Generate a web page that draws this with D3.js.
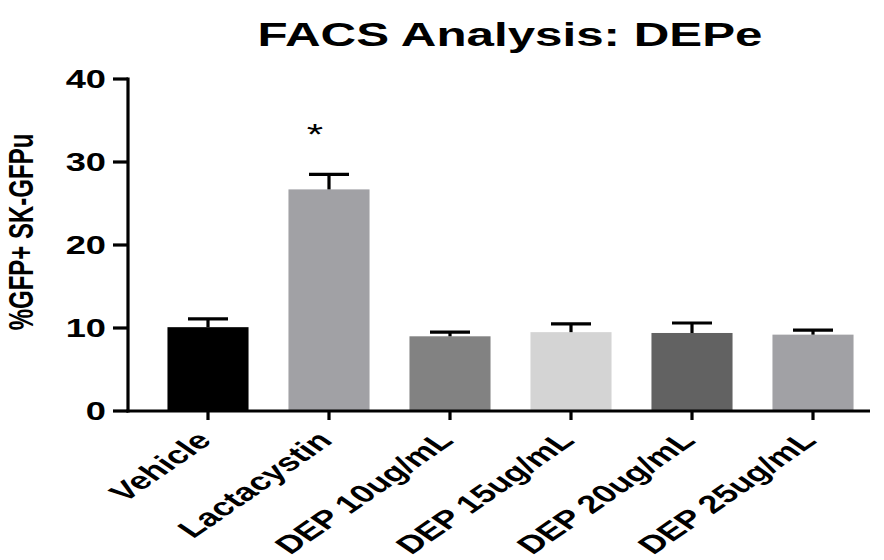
<!DOCTYPE html>
<html>
<head>
<meta charset="utf-8">
<script src="https://cdn.jsdelivr.net/npm/d3@7/dist/d3.min.js"></script>
<style>
  html, body { margin: 0; padding: 0; background: #fff; }
  svg { display: block; }
  text { font-family: "Liberation Sans", Arial, Helvetica, sans-serif; font-weight: bold; fill: #000; }
</style>
</head>
<body>
<svg id="chart" width="884" height="560"></svg>
<script>
// Treatment groups, mean %GFP+ cells and SEM
const categories = ["Vehicle", "Lactacystin", "DEP 10ug/mL", "DEP 15ug/mL", "DEP 20ug/mL", "DEP 25ug/mL"];
const means = [10.1, 26.7, 9.0, 9.5, 9.4, 9.2];
const sems = [1.0, 1.8, 0.5, 1.0, 1.2, 0.55];
const barColors = ["#000000", "#a1a1a5", "#828282", "#d4d4d4", "#626262", "#a1a1a5"];
const significant = [false, true, false, false, false, false];
const yTicks = [0, 10, 20, 30, 40];
const titleText = "FACS Analysis: DEPe";
const yLabelText = "%GFP+ SK-GFPu";

// Horizontal stretch applied to text glyphs
const SX = 1.45;

const svg = d3.select("#chart");

const axisLeft = 128, axisRight = 870, axisBottom = 411, axisTop = 79;

const y = d3.scaleLinear().domain([0, 40]).range([axisBottom, axisTop]);
const x = d3.scaleBand()
  .domain(categories)
  .range([147.5, 873.5])
  .paddingInner(0.33)
  .paddingOuter(0.165);

const data = categories.map((c, i) => ({
  cat: c, mean: means[i], sem: sems[i], color: barColors[i], sig: significant[i]
}));

// Bars
svg.append("g").selectAll("rect")
  .data(data)
  .join("rect")
  .attr("x", d => x(d.cat))
  .attr("y", d => y(d.mean))
  .attr("width", x.bandwidth())
  .attr("height", d => y(0) - y(d.mean))
  .attr("fill", d => d.color);

// Error bars (upper only)
const capHalf = 20;
const eb = svg.append("g").attr("stroke", "#000").attr("stroke-width", 3.2);
data.forEach(d => {
  const cx = x(d.cat) + x.bandwidth() / 2;
  eb.append("line").attr("x1", cx).attr("x2", cx)
    .attr("y1", y(d.mean)).attr("y2", y(d.mean + d.sem));
  eb.append("line").attr("x1", cx - capHalf).attr("x2", cx + capHalf)
    .attr("y1", y(d.mean + d.sem)).attr("y2", y(d.mean + d.sem));
});

// Significance marks
data.filter(d => d.sig).forEach(d => {
  const cx = x(d.cat) + x.bandwidth() / 2 - 14;
  svg.append("text")
    .attr("transform", `translate(${cx},${y(d.mean + d.sem) - 30}) scale(${SX},1)`)
    .attr("text-anchor", "middle")
    .style("font-size", "29px")
    .style("font-weight", "normal")
    .text("*");
});

// Y axis
const yAxis = svg.append("g");
yAxis.append("line")
  .attr("x1", axisLeft).attr("x2", axisLeft)
  .attr("y1", y(40) - 1.5).attr("y2", axisBottom + 1.5)
  .attr("stroke", "#000").attr("stroke-width", 3.2);
yAxis.selectAll("line.tick")
  .data(yTicks)
  .join("line")
  .attr("class", "tick")
  .attr("x1", 113).attr("x2", axisLeft)
  .attr("y1", d => y(d)).attr("y2", d => y(d))
  .attr("stroke", "#000").attr("stroke-width", 3.2);
yAxis.selectAll("text")
  .data(yTicks)
  .join("text")
  .attr("transform", d => `translate(106,${y(d) + 9}) scale(${SX},1)`)
  .attr("text-anchor", "end")
  .style("font-size", "25px")
  .text(d => d);

// X axis
const xAxis = svg.append("g");
xAxis.append("line")
  .attr("x1", axisLeft - 1.5).attr("x2", axisRight)
  .attr("y1", axisBottom).attr("y2", axisBottom)
  .attr("stroke", "#000").attr("stroke-width", 3.2);
xAxis.selectAll("line.tick")
  .data(categories)
  .join("line")
  .attr("class", "tick")
  .attr("x1", d => x(d) + x.bandwidth() / 2).attr("x2", d => x(d) + x.bandwidth() / 2)
  .attr("y1", axisBottom).attr("y2", axisBottom + 9)
  .attr("stroke", "#000").attr("stroke-width", 3.2);
xAxis.selectAll("text")
  .data(categories)
  .join("text")
  .attr("transform", d => `translate(${x(d) + x.bandwidth() / 2 + 5},${axisBottom + 31}) scale(${SX},1) rotate(-45)`)
  .attr("text-anchor", "end")
  .style("font-size", "25px")
  .text(d => d);

// Y axis title
svg.append("text")
  .attr("transform", `translate(33,232) rotate(-90) scale(1,${SX})`)
  .attr("text-anchor", "middle")
  .style("font-size", "24px")
  .text(yLabelText);

// Chart title
svg.append("text")
  .attr("transform", `translate(510,46) scale(${SX},1)`)
  .attr("text-anchor", "middle")
  .style("font-size", "34px")
  .text(titleText);
</script>
</body>
</html>
